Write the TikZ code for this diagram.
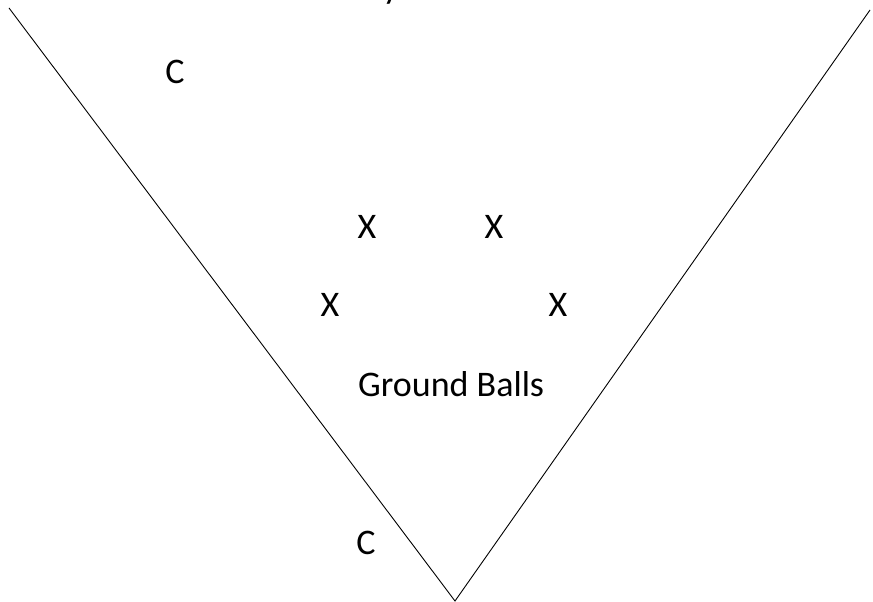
\documentclass[tikz,border=0pt]{standalone}
\usepackage{fontspec}
\setmainfont{Carlito}
\usetikzlibrary{positioning}

\begin{document}
\begin{tikzpicture}[x=1pt, y=-1pt, every node/.style={font=\fontsize{36}{40}\selectfont, inner sep=0pt}, foul/.style={line width=0.9pt, black}, spot/.style={anchor=center}]
	\useasboundingbox (0,0) rectangle (873,602);
	% foul lines
	\coordinate (home) at (455,601);
	\coordinate (lft) at (9,8);
	\coordinate (rgt) at (870,10);
	\draw[foul] (lft) -- (home) -- (rgt);
	% labels cut at the top edge
	\node[anchor=base west] (fly) at (358,-1) {Fly Balls};
	\node[anchor=base west] (bunt) at (648,-1) {Bunts};
	% catchers
	\node[spot] (c1) at (175,72) {C};
	\node[spot] (c2) at (366,543) {C};
	% fielders
	\node[spot] (x1) at (367,227) {X};
	\node[spot] (x2) at (494,227) {X};
	\node[spot] (x3) at (330,305) {X};
	\node[spot] (x4) at (558,305) {X};
	\node[anchor=base west] (ground) at (358,396) {Ground Balls};
\end{tikzpicture}
\end{document}
